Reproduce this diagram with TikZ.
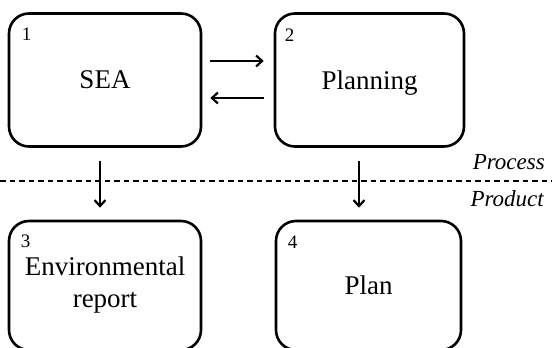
\documentclass[tikz,border=0pt]{standalone}
\usepackage{fontspec}
\setmainfont{Liberation Serif}
\usetikzlibrary{arrows.meta}
\begin{document}
\begin{tikzpicture}[x=1pt,y=1pt,
    stagebox/.style={draw,line width=2.6pt,rounded corners=20pt,align=center,
        font=\fontsize{27}{32}\selectfont,inner sep=0pt},
    stagenum/.style={font=\fontsize{19}{19}\selectfont,inner sep=0pt},
    flow/.style={line width=2.2pt,-{Straight Barb[length=6pt,width=11pt,line width=2.2pt]}},
    zone/.style={font=\itshape\fontsize{23}{23}\selectfont,inner sep=0pt}]

\def\BOXHEIGHT{133}
\def\LOWHEIGHT{129}
	\useasboundingbox (0,0) rectangle (552,348);
	\node[stagebox,minimum width=192,minimum height=\BOXHEIGHT] (sea) at (105,268) {SEA};
	\node[stagebox,minimum width=189,minimum height=\BOXHEIGHT,text depth=0pt] (planning) at (369.5,268) {Planning};
	\node[stagebox,minimum width=192,minimum height=\LOWHEIGHT] (report) at (105,62.5) {Environmental\\report};
	\node[stagebox,minimum width=185,minimum height=\LOWHEIGHT] (plan) at (368.5,62.5) {Plan};
	\node[stagenum] (n1) at ([xshift=19,yshift=-22]sea.north west) {1};
	\node[stagenum] (n2) at ([xshift=16,yshift=-23]planning.north west) {2};
	\node[stagenum] (n3) at ([xshift=18,yshift=-22]report.north west) {3};
	\node[stagenum] (n4) at ([xshift=18,yshift=-23]plan.north west) {4};
	\draw[flow] ([xshift=8,yshift=19]sea.east) -- ([xshift=-10,yshift=19]planning.west);
	\draw[flow] ([xshift=-10,yshift=-18]planning.west) -- ([xshift=8,yshift=-18]sea.east);
	\draw[flow] ([xshift=-5,yshift=-13]sea.south) -- ([xshift=-5,yshift=12]report.north);
	\draw[flow] ([xshift=-10.5,yshift=-13]planning.south) -- ([xshift=-9.5,yshift=12]plan.north);
	\coordinate (divL) at (0,167);
	\coordinate (divR) at (552,167);
	\draw[line width=1.4pt,dash pattern=on 5.5pt off 4pt] (divL) -- (divR);
	\node[zone,anchor=base east] (process) at (545,178) {Process};
	\node[zone,anchor=base east] (product) at (544,141) {Product};

\end{tikzpicture}
\end{document}
